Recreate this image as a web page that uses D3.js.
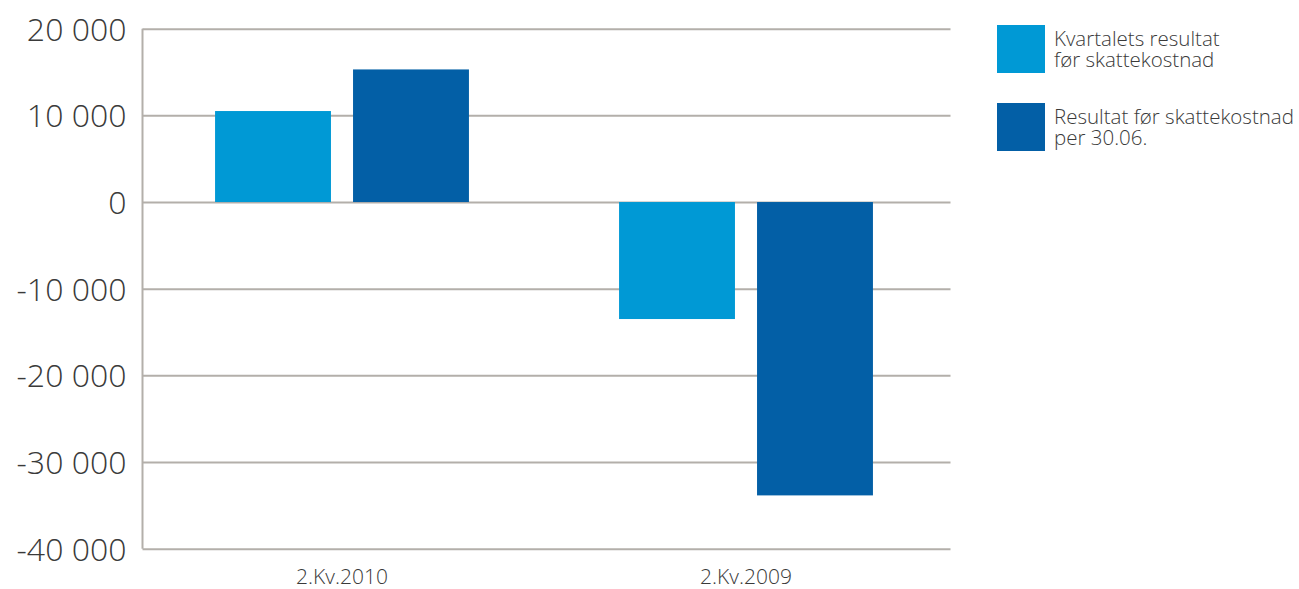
<!DOCTYPE html>
<html>
<head>
<meta charset="utf-8">
<script src="https://cdn.jsdelivr.net/npm/d3@7"></script>
<style>
  body { margin: 0; background: #fff; }
  svg, .axis text, .legend text { font-family: "Open Sans", Roboto, "Liberation Sans", sans-serif; }
  .y.axis text { font-size: 32px; font-weight: 300; fill: #3a3a3a; }
  .x.axis text { font-size: 21px; font-weight: 300; fill: #3a3a3a; }
  .legend text { font-size: 20.5px; font-weight: 300; fill: #3a3a3a; }
</style>
</head>
<body>
<svg id="chart" width="1299" height="589"></svg>
<script>
"use strict";

var categories = ["2.Kv.2010", "2.Kv.2009"]
var series = ["Kvartalets resultat før skattekostnad", "Resultat før skattekostnad per 30.06."]
var legendLines = [["Kvartalets resultat", "før skattekostnad"], ["Resultat før skattekostnad", "per 30.06."]]
var kvartal = [10500, -13500]
var perDato = [15300, -33850]
var yTicks = [-40000, -30000, -20000, -10000, 0, 10000, 20000]
var colors = ["#0099d5", "#035fa6"]

var values = [kvartal, perDato]
var data = categories.map((cat, i) => ({
    name: cat,
    vals: series.map((s, j) => ({ key: s, value: values[j][i] }))
}))

var svg = d3.select("#chart")
var margin = { left: 142.5, top: 28.7 }
var width = 808
var height = 520

var g = svg.append("g").attr("transform", "translate(" + margin.left + "," + margin.top + ")")

var y = d3.scaleLinear().domain([-40000, 20000]).range([height, 0])
var x0 = d3.scaleBand().domain(categories).range([-2.5, width - 2.5])
var x1 = d3.scaleBand().domain(series).range([0, x0.bandwidth()])
    .paddingInner(0.16).paddingOuter(0.544)

var fmt = d => d3.format(",")(d).replace(/,/g, " ").replace("−", "-")

var yAxis = d3.axisLeft(y).tickValues(yTicks).tickSize(-width).tickPadding(16).tickFormat(fmt)

var yg = g.append("g")
    .attr("class", "y axis")
    .call(yAxis)
yg.select(".domain").remove()
yg.selectAll("line").attr("stroke", "#b3afaa").attr("stroke-width", 2)
yg.selectAll("text").attr("dy", "0.36em")

// vertical axis line
g.append("line")
    .attr("x1", 0).attr("x2", 0)
    .attr("y1", y(20000)).attr("y2", y(-40000))
    .attr("stroke", "#b3afaa").attr("stroke-width", 2)

var xAxis = d3.axisBottom(x0).tickSize(0).tickPadding(20)
var xg = g.append("g")
    .attr("class", "x axis")
    .attr("transform", "translate(0," + height + ")")
    .call(xAxis)
xg.select(".domain").remove()

var groups = g.selectAll(".group")
    .data(data)
    .enter().append("g")
    .attr("class", "group")
    .attr("transform", d => "translate(" + x0(d.name) + ",0)")

groups.selectAll("rect")
    .data(d => d.vals)
    .enter().append("rect")
    .attr("x", d => x1(d.key))
    .attr("width", x1.bandwidth())
    .attr("y", d => y(Math.max(0, d.value)))
    .attr("height", d => Math.abs(y(d.value) - y(0)))
    .style("fill", (d, i) => colors[i])

var legend = svg.append("g").attr("class", "legend")
    .selectAll("g")
    .data(series)
    .enter().append("g")
    .attr("transform", (d, i) => "translate(997," + (25 + i * 78) + ")")

legend.append("rect")
    .attr("width", 48).attr("height", 48)
    .style("fill", (d, i) => colors[i])

legend.selectAll("text")
    .data((d, i) => legendLines[i])
    .enter().append("text")
    .attr("x", 57)
    .attr("y", (d, i) => 21 + i * 21)
    .text(d => d)
</script>
</body>
</html>
